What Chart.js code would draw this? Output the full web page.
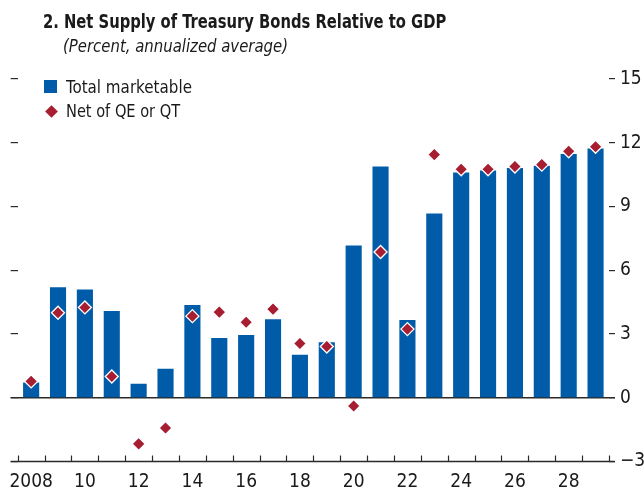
<!DOCTYPE html>
<html>
<head>
<meta charset="utf-8">
<script src="https://cdn.jsdelivr.net/npm/chart.js@4.4.1/dist/chart.umd.min.js"></script>
<style>
  html, body { margin: 0; padding: 0; background: #fff; }
  #wrap { position: relative; width: 644px; height: 490px; overflow: hidden; }
  canvas { position: absolute; left: 0; top: 0; }
  .t { position: absolute; white-space: nowrap; color: #1a1a1a; transform-origin: 0 50%;
       font-family: 'Liberation Sans Narrow', 'DejaVu Sans Condensed', 'Arial Narrow', sans-serif; }
  #title { left: 43px; top: 9px; font-size: 20px; font-weight: bold; transform: scaleX(0.82); }
  #sub { left: 63px; top: 35px; font-size: 18px; font-style: italic; transform: scaleX(0.92); }
  .lg { font-size: 18px; left: 66px; }
  #sq { position: absolute; left: 44px; top: 80px; width: 13px; height: 13px; background: #005CA9; }
  #dm { position: absolute; left: 46.5px; top: 106.5px; width: 9px; height: 9px; background: #A71D31; transform: rotate(45deg); }
</style>
</head>
<body>
<div id="wrap">
  <canvas id="c" width="644" height="490"></canvas>
  <div class="t" id="title">2. Net Supply of Treasury Bonds Relative to GDP</div>
  <div class="t" id="sub">(Percent, annualized average)</div>
  <div id="sq"></div>
  <div class="t lg" style="top:76px; transform: scaleX(0.935)">Total marketable</div>
  <div id="dm"></div>
  <div class="t lg" style="top:100px; transform: scaleX(0.9)">Net of QE or QT</div>
</div>
<script>
const categories = ['2008','2009','2010','2011','2012','2013','2014','2015','2016','2017','2018',
                    '2019','2020','2021','2022','2023','2024','2025','2026','2027','2028','2029'];
const xTickLabels = ['2008','','10','','12','','14','','16','','18','','20','','22','','24','','26','','28',''];
const totalMarketable = [0.72, 5.2, 5.1, 4.08, 0.66, 1.36, 4.36, 2.81, 2.95, 3.7, 2.02,
                         2.61, 7.17, 10.88, 3.66, 8.67, 10.6, 10.69, 10.81, 10.92, 11.47, 11.73];
const netOfQEorQT = [0.77, 4.0, 4.25, 1.0, -2.17, -1.42, 3.84, 4.03, 3.55, 4.17, 2.55,
                     2.41, -0.39, 6.86, 3.23, 11.44, 10.75, 10.75, 10.88, 10.97, 11.6, 11.81];
const yTicks = [-3, 0, 3, 6, 9, 12, 15];

const FONT = "'Liberation Sans Narrow', 'DejaVu Sans Condensed', 'Arial Narrow', sans-serif";
const BLUE = '#005CA9';
const RED = '#A71D31';
const AXIS = '#2a2a2a';

const axisPlugin = {
  id: 'axisLines',
  beforeDatasetsDraw(chart) {
    const { ctx, chartArea } = chart;
    const y = chart.scales.y;
    const x0 = chartArea.left - 7, x1 = chartArea.right + 6;
    ctx.save();
    ctx.strokeStyle = AXIS;
    const yz = y.getPixelForValue(0);
    ctx.lineWidth = 1.5;
    ctx.beginPath(); ctx.moveTo(x0, yz); ctx.lineTo(x1, yz); ctx.stroke();
    const yb = chartArea.bottom;
    ctx.lineWidth = 1.3;
    ctx.beginPath(); ctx.moveTo(x0, yb); ctx.lineTo(x1, yb); ctx.stroke();
    const n = categories.length;
    const w = (chartArea.right - chartArea.left) / n;
    ctx.lineWidth = 1.2;
    for (let i = 0; i <= n; i++) {
      const xx = Math.round(chartArea.left + i * w) + 0.5;
      ctx.beginPath(); ctx.moveTo(xx, yb - 6); ctx.lineTo(xx, yb); ctx.stroke();
    }
    ctx.restore();
  }
};

new Chart(document.getElementById('c'), {
  data: {
    labels: categories,
    datasets: [
      {
        type: 'line',
        label: 'Net of QE or QT',
        data: netOfQEorQT,
        showLine: false,
        pointStyle: 'rectRot',
        pointRadius: 6.5,
        pointBackgroundColor: RED,
        pointBorderColor: '#ffffff',
        pointBorderWidth: 1.3,
        order: 1,
        yAxisID: 'y'
      },
      {
        type: 'bar',
        label: 'Total marketable',
        data: totalMarketable,
        backgroundColor: BLUE,
        borderWidth: 0,
        barPercentage: 0.6,
        categoryPercentage: 1.0,
        order: 2,
        yAxisID: 'y'
      }
    ]
  },
  options: {
    responsive: false,
    animation: false,
    layout: { padding: { top: 79, left: 0, right: 0, bottom: 0 } },
    plugins: { legend: { display: false }, tooltip: { enabled: false } },
    scales: {
      x: {
        type: 'category',
        position: 'bottom',
        offset: true,
        grid: { display: false, drawTicks: false },
        border: { display: false },
        ticks: {
          autoSkip: false, maxRotation: 0, padding: 9,
          color: '#1a1a1a',
          font: { family: FONT, size: 19 },
          callback: (v, i) => xTickLabels[i]
        },
        afterFit: s => { s.height = 28.5; }
      },
      y: {
        position: 'right',
        min: -3, max: 15,
        afterBuildTicks: s => { s.ticks = yTicks.map(v => ({ value: v })); },
        grid: { drawOnChartArea: false, tickLength: 6, tickColor: AXIS, lineWidth: 1.2 },
        border: { display: false },
        ticks: {
          padding: 5,
          color: '#1a1a1a',
          font: { family: FONT, size: 19 },
          callback: v => (v < 0 ? '\u2212' + Math.abs(v) : String(v))
        },
        afterFit: s => { s.width = 35; }
      },
      yl: {
        position: 'left',
        min: -3, max: 15,
        afterBuildTicks: s => { s.ticks = yTicks.map(v => ({ value: v })); },
        grid: { drawOnChartArea: false, tickLength: 7, tickColor: AXIS, lineWidth: 1.2 },
        border: { display: false },
        ticks: { display: false },
        afterFit: s => { s.width = 17.3; }
      }
    }
  },
  plugins: [axisPlugin]
});
</script>
</body>
</html>
